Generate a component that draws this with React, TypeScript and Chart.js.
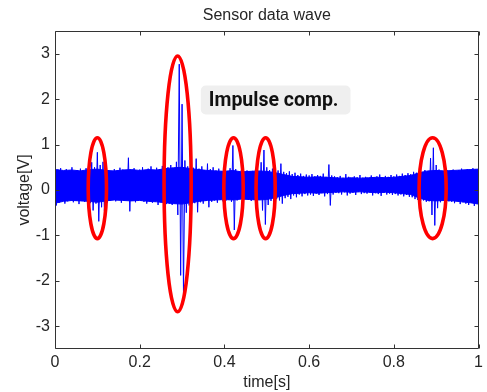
import React, { useEffect, useRef } from "react";
import { Chart, registerables } from "chart.js";

Chart.register(...registerables);

// ---- data ----
const SAMPLE_RATE = 300; // samples per second (time axis 0..1 s)
const voltage: number[] = [
  0.52, -0.34, 0.45, -0.28, 0.48, -0.22, 0.41, -0.30, 0.46, -0.25, 0.43, -0.20, 0.50, -0.27, 0.40, -0.24, 0.44, -0.31, 0.47, -0.22,
  0.42, -0.26, 0.48, -0.23, 0.45, -0.29, 0.61, -0.45, 0.50, -0.30, 0.83, -0.69, 0.55, -0.38, 0.62, -0.46, 0.47, -0.28, 0.44, -0.24,
  0.41, -0.22, 0.46, -0.25, 0.43, -0.21, 0.49, -0.28, 0.45, -0.24, 0.40, -0.20, 0.71, -0.47, 0.44, -0.23, 0.48, -0.27, 0.42, -0.22,
  0.45, -0.24, 0.50, -0.26, 0.43, -0.30, 0.47, -0.22, 0.52, -0.28, 0.44, -0.25, 0.49, -0.33, 0.46, -0.27, 0.53, -0.29, 0.48, -0.31,
  0.50, -0.30, 0.55, -0.33, 0.48, -0.28, 0.62, -0.55, 2.77, -1.88, 1.89, -2.28, 0.65, -0.50, 0.52, -0.34, 0.56, -0.31, 0.49, -0.29,
  0.69, -0.49, 0.47, -0.27, 0.52, -0.30, 0.44, -0.24, 0.58, -0.38, 0.46, -0.26, 0.50, -0.23, 0.43, -0.28, 0.47, -0.22, 0.41, -0.25,
  0.45, -0.24, 0.42, -0.21, 0.48, -0.26, 0.98, -0.88, 0.46, -0.23, 0.40, -0.20, 0.44, -0.25, 0.39, -0.19, 0.43, -0.22, 0.41, -0.24,
  0.42, -0.22, 0.46, -0.25, 0.40, -0.21, 0.61, -0.45, 0.88, -0.76, 0.50, -0.33, 0.44, -0.24, 0.47, -0.27, 0.41, -0.20, 0.43, -0.23,
  0.58, -0.30, 0.40, -0.18, 0.37, -0.15, 0.41, -0.20, 0.35, -0.12, 0.38, -0.16, 0.33, -0.10, 0.36, -0.14, 0.31, -0.09, 0.34, -0.12,
  0.32, -0.10, 0.35, -0.13, 0.30, -0.08, 0.33, -0.11, 0.31, -0.07, 0.36, -0.14, 0.29, -0.09, 0.56, -0.34, 0.32, -0.10, 0.30, -0.06,
  0.28, -0.07, 0.31, -0.10, 0.27, -0.05, 0.35, -0.12, 0.29, -0.08, 0.26, -0.06, 0.30, -0.11, 0.28, -0.04, 0.33, -0.09, 0.27, -0.07,
  0.29, -0.08, 0.26, -0.05, 0.32, -0.12, 0.28, -0.07, 0.30, -0.09, 0.34, -0.13, 0.27, -0.06, 0.31, -0.10, 0.29, -0.08, 0.33, -0.11,
  0.30, -0.09, 0.34, -0.12, 0.31, -0.10, 0.36, -0.14, 0.33, -0.11, 0.37, -0.15, 0.35, -0.16, 0.40, -0.20, 0.38, -0.22, 0.42, -0.24,
  0.40, -0.23, 0.44, -0.26, 0.41, -0.25, 0.70, -0.55, 0.93, -0.78, 0.55, -0.40, 0.45, -0.27, 0.42, -0.24, 0.46, -0.28, 0.43, -0.25,
  0.41, -0.26, 0.45, -0.29, 0.40, -0.24, 0.44, -0.31, 0.47, -0.27, 0.42, -0.30, 0.46, -0.33, 0.43, -0.28, 0.48, -0.35, 0.45, -0.30,
  0.44,
];

// dense noise band (core envelope of the fast oscillation), read every 0.02 s
const BAND_STEP = 0.02;
const bandUpper: number[] = [
  0.45, 0.43, 0.44, 0.42, 0.45, 0.46, 0.43, 0.42, 0.44, 0.45,
  0.43, 0.45, 0.44, 0.47, 0.49, 0.50, 0.47, 0.45, 0.43, 0.42,
  0.41, 0.43, 0.40, 0.41, 0.42, 0.41, 0.38, 0.34, 0.30, 0.29,
  0.28, 0.29, 0.28, 0.27, 0.26, 0.27, 0.26, 0.27, 0.28, 0.27,
  0.28, 0.30, 0.32, 0.38, 0.42, 0.43, 0.42, 0.43, 0.44, 0.45,
  0.46,
];
const bandLower: number[] = [
  -0.29, -0.25, -0.23, -0.24, -0.25, -0.27, -0.24, -0.22, -0.23, -0.24,
  -0.23, -0.25, -0.26, -0.28, -0.30, -0.31, -0.28, -0.25, -0.23, -0.22,
  -0.21, -0.22, -0.20, -0.21, -0.22, -0.21, -0.17, -0.12, -0.08, -0.07,
  -0.06, -0.07, -0.06, -0.05, -0.04, -0.05, -0.04, -0.05, -0.06, -0.05,
  -0.06, -0.08, -0.10, -0.18, -0.23, -0.24, -0.23, -0.24, -0.26, -0.28,
  -0.31,
];

const timeTicks = [0, 0.2, 0.4, 0.6, 0.8, 1];
const voltageTicks = [-3, -2, -1, 0, 1, 2, 3];

// highlighted impulse regions (time centre, time half-width, voltage top, voltage bottom)
const ellipseT = [0.1, 0.2895, 0.4215, 0.4973, 0.8916];
const ellipseHalfT = [0.0216, 0.032, 0.0229, 0.0226, 0.032];
const ellipseTop = [1.15, 2.95, 1.15, 1.15, 1.15];
const ellipseBottom = [-1.07, -2.68, -1.07, -1.07, -1.07];

const noteText = "Impulse comp.";
const noteT = 0.521;
const noteV = 1.98;

const TITLE = "Sensor data wave";
const X_TITLE = "time[s]";
const Y_TITLE = "voltage[V]";

const FONT = 'Arial, "Liberation Sans", sans-serif';
const TEXT = "#262626";
const BLUE = "#0000ff";

const overlayPlugin = {
  id: "overlay",
  afterDatasetsDraw(chart: any) {
    const { ctx, scales } = chart;
    const x = scales.x;
    const y = scales.y;
    ctx.save();
    ctx.strokeStyle = "#ff0000";
    ctx.lineWidth = 3.6;
    for (let i = 0; i < ellipseT.length; i++) {
      const cx = x.getPixelForValue(ellipseT[i]);
      const rx = x.getPixelForValue(ellipseT[i] + ellipseHalfT[i]) - cx;
      const yt = y.getPixelForValue(ellipseTop[i]);
      const yb = y.getPixelForValue(ellipseBottom[i]);
      ctx.beginPath();
      ctx.ellipse(cx, (yt + yb) / 2, rx, Math.abs(yb - yt) / 2, 0, 0, Math.PI * 2);
      ctx.stroke();
    }
    ctx.font = "bold 19.5px Roboto, Arial, sans-serif";
    const w = ctx.measureText(noteText).width;
    const cx = x.getPixelForValue(noteT);
    const cy = y.getPixelForValue(noteV);
    const bw = w + 20;
    const bh = 29;
    ctx.fillStyle = "#efefef";
    ctx.beginPath();
    (ctx as any).roundRect(cx - bw / 2, cy - bh / 2, bw, bh, 5);
    ctx.fill();
    ctx.fillStyle = "#111111";
    ctx.textAlign = "center";
    ctx.textBaseline = "middle";
    ctx.fillText(noteText, cx - 2, cy + 1);
    ctx.restore();
  },
  afterDraw(chart: any) {
    const { ctx, chartArea: a, scales } = chart;
    const x = scales.x;
    const y = scales.y;
    ctx.save();
    ctx.strokeStyle = "#333333";
    ctx.lineWidth = 1;
    const L = Math.round(a.left) + 0.5;
    const R = Math.round(a.right) - 0.5;
    const T = Math.round(a.top) + 0.5;
    const B = Math.round(a.bottom) - 0.5;
    ctx.beginPath();
    ctx.rect(L, T, R - L, B - T);
    const tl = 4;
    for (const v of timeTicks) {
      const px = Math.round(x.getPixelForValue(v)) + 0.5;
      ctx.moveTo(px, B);
      ctx.lineTo(px, B - tl);
      ctx.moveTo(px, T);
      ctx.lineTo(px, T + tl);
    }
    for (const v of voltageTicks) {
      const py = Math.round(y.getPixelForValue(v)) + 0.5;
      ctx.moveTo(L, py);
      ctx.lineTo(L + tl, py);
      ctx.moveTo(R, py);
      ctx.lineTo(R - tl, py);
    }
    ctx.stroke();
    ctx.restore();
  },
};

export default function App() {
  const ref = useRef<HTMLCanvasElement | null>(null);
  useEffect(() => {
    if (!ref.current) return;
    const signal = voltage.map((v, i) => ({ x: i / SAMPLE_RATE, y: v }));
    const upper = bandUpper.map((v, i) => ({ x: i * BAND_STEP, y: v }));
    const lower = bandLower.map((v, i) => ({ x: i * BAND_STEP, y: v }));
    const chart = new Chart(ref.current, {
      type: "line",
      data: {
        datasets: [
          {
            data: upper,
            borderColor: BLUE,
            borderWidth: 1,
            pointRadius: 0,
            tension: 0,
            fill: false,
          },
          {
            data: lower,
            borderColor: BLUE,
            borderWidth: 1,
            backgroundColor: BLUE,
            pointRadius: 0,
            tension: 0,
            fill: "-1",
          },
          {
            data: signal,
            borderColor: BLUE,
            borderWidth: 1,
            pointRadius: 0,
            tension: 0,
            fill: false,
          },
        ],
      },
      options: {
        animation: false,
        responsive: false,
        devicePixelRatio: 1,
        layout: { padding: { top: 0, right: 3, left: 0, bottom: 0 } },
        plugins: {
          legend: { display: false },
          tooltip: { enabled: false },
          title: {
            display: true,
            text: TITLE,
            fullSize: false,
            color: TEXT,
            font: { family: FONT, size: 16, weight: "normal" },
            padding: { top: 6, bottom: 5.8 },
          },
        },
        scales: {
          x: {
            type: "linear",
            min: 0,
            max: 1,
            afterBuildTicks: (s: any) => {
              s.ticks = timeTicks.map((v) => ({ value: v }));
            },
            afterFit: (s: any) => {
              s.height = 43;
            },
            ticks: {
              color: TEXT,
              font: { family: FONT, size: 16 },
              padding: 4,
              maxRotation: 0,
              autoSkip: false,
              callback: (v: any) => String(v),
            },
            grid: { display: false, drawTicks: false },
            border: { display: false },
            title: {
              display: true,
              text: X_TITLE,
              color: TEXT,
              font: { family: FONT, size: 16 },
              padding: { top: 0, bottom: 0 },
            },
          },
          y: {
            type: "linear",
            min: -3.5,
            max: 3.5,
            afterBuildTicks: (s: any) => {
              s.ticks = voltageTicks.map((v) => ({ value: v }));
            },
            afterFit: (s: any) => {
              s.width = 55;
            },
            ticks: {
              color: TEXT,
              font: { family: FONT, size: 16 },
              padding: 5,
              autoSkip: false,
              callback: (v: any) => String(v),
            },
            grid: { display: false, drawTicks: false },
            border: { display: false },
            title: {
              display: true,
              text: Y_TITLE,
              color: TEXT,
              font: { family: FONT, size: 16 },
              padding: { top: 15, bottom: 0 },
            },
          },
        },
      },
      plugins: [overlayPlugin],
    } as any);
    return () => chart.destroy();
  }, []);
  return (
    <div style={{ position: "fixed", left: 0, top: 0, width: 487, height: 392, background: "#ffffff" }}>
      <canvas ref={ref} width={487} height={392} style={{ display: "block", width: 487, height: 392 }} />
    </div>
  );
}
